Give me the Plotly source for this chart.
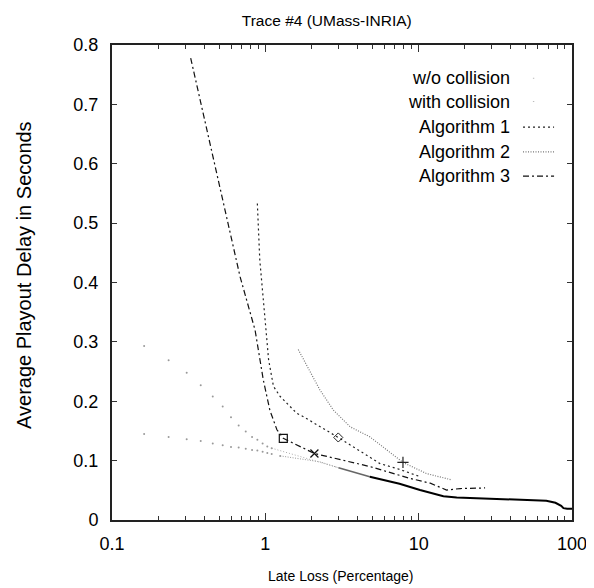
import plotly.graph_objects as go

# ---------------- data ----------------
with_coll_x = [0.162, 0.234, 0.307, 0.379, 0.454, 0.527, 0.597, 0.670, 0.745, 0.819, 0.887, 0.96, 1.03, 1.10]
with_coll_y = [0.293, 0.269, 0.248, 0.227, 0.208, 0.191, 0.173, 0.159, 0.149, 0.140, 0.135, 0.129, 0.124, 0.121]
with_coll_tail_x = [1.10, 1.5, 2.27, 3.0]
with_coll_tail_y = [0.121, 0.111, 0.098, 0.088]

wo_coll_x = [0.162, 0.234, 0.307, 0.379, 0.454, 0.527, 0.597, 0.670, 0.745, 0.819, 0.887, 0.96, 1.03, 1.10, 1.25]
wo_coll_y = [0.145, 0.140, 0.136, 0.133, 0.129, 0.126, 0.123, 0.122, 0.120, 0.118, 0.117, 0.115, 0.113, 0.111, 0.108]
wo_coll_tail_x = [1.25, 1.6, 2.27, 3.0]
wo_coll_tail_y = [0.108, 0.104, 0.098, 0.088]

merge_x = [3.0, 4.8]
merge_y = [0.088, 0.073]
dense_x = [4.8, 7.5, 10.2, 14.5, 17.7, 25, 34, 50, 68, 78, 85, 88, 93, 100]
dense_y = [0.073, 0.061, 0.0505, 0.040, 0.038, 0.0365, 0.035, 0.034, 0.0325, 0.029, 0.024, 0.020, 0.019, 0.019]

alg1_x = [0.887, 0.92, 1.01, 1.05, 1.13, 1.25, 1.6, 1.77, 2.99, 5.6, 7.56, 10.2]
alg1_y = [0.533, 0.438, 0.32, 0.27, 0.225, 0.208, 0.18, 0.174, 0.139, 0.095, 0.085, 0.073]

alg2_x = [1.64, 2.27, 2.78, 3.57, 4.81, 5.89, 7.9, 11.3, 16.2]
alg2_y = [0.287, 0.219, 0.185, 0.157, 0.140, 0.123, 0.097, 0.078, 0.068]

alg3_x = [0.326, 0.684, 0.857, 0.97, 1.07, 1.19, 1.31, 2.09, 4.81, 8.8, 11.9, 15.2, 18.7, 27.1]
alg3_y = [0.778, 0.41, 0.32, 0.236, 0.185, 0.152, 0.1375, 0.112, 0.090, 0.070, 0.062, 0.0505, 0.053, 0.054]

# single highlighted points (index into series)
alg1_mark = 8   # diamond
alg2_mark = 6   # plus
alg3_marks = [6, 7]  # square, cross

legend_labels = ["w/o collision", "with collision", "Algorithm 1", "Algorithm 2", "Algorithm 3"]

x_tickvals = [0.1, 1, 10, 100]
x_ticktext = ["0.1", "1", "10", "100"]
x_minor = [m * d for d in (0.1, 1, 10) for m in range(2, 10)]
y_tickvals = [0, 0.1, 0.2, 0.3, 0.4, 0.5, 0.6, 0.7, 0.8]
y_ticktext = ["0", "0.1", "0.2", "0.3", "0.4", "0.5", "0.6", "0.7", "0.8"]

FONT = "Liberation Sans, Arial, sans-serif"

fig = go.Figure()

fig.add_trace(go.Scatter(x=with_coll_x, y=with_coll_y, mode="markers",
                         marker=dict(size=2, color="#999999"), showlegend=False))
fig.add_trace(go.Scatter(x=with_coll_tail_x, y=with_coll_tail_y, mode="lines",
                         line=dict(color="#aaaaaa", width=1, dash="1px,2px"), showlegend=False))
fig.add_trace(go.Scatter(x=wo_coll_x, y=wo_coll_y, mode="markers",
                         marker=dict(size=2, color="#999999"), showlegend=False))
fig.add_trace(go.Scatter(x=wo_coll_tail_x, y=wo_coll_tail_y, mode="lines",
                         line=dict(color="#999999", width=1, dash="1px,1.5px"), showlegend=False))
fig.add_trace(go.Scatter(x=merge_x, y=merge_y, mode="lines",
                         line=dict(color="#666666", width=1.6), showlegend=False))
fig.add_trace(go.Scatter(x=dense_x, y=dense_y, mode="lines",
                         line=dict(color="#000000", width=2), showlegend=False))

fig.add_trace(go.Scatter(x=alg1_x, y=alg1_y, mode="lines",
                         line=dict(color="#222222", width=1.2, dash="2px,3px"), showlegend=False))
fig.add_trace(go.Scatter(x=alg2_x, y=alg2_y, mode="lines",
                         line=dict(color="#777777", width=1.2, dash="1px,1.5px"), showlegend=False))
fig.add_trace(go.Scatter(x=alg3_x, y=alg3_y, mode="lines",
                         line=dict(color="#111111", width=1.2, dash="6px,3px,2px,3px"), showlegend=False))

fig.add_trace(go.Scatter(x=[alg1_x[alg1_mark]], y=[alg1_y[alg1_mark]], mode="markers",
                         marker=dict(symbol="diamond-open", size=7, color="#222222", line=dict(width=1)),
                         showlegend=False))
fig.add_trace(go.Scatter(x=[alg2_x[alg2_mark]], y=[alg2_y[alg2_mark]], mode="markers",
                         marker=dict(symbol="cross-thin-open", size=8, color="#222222", line=dict(width=1.2)),
                         showlegend=False))
fig.add_trace(go.Scatter(x=[alg3_x[alg3_marks[0]]], y=[alg3_y[alg3_marks[0]]], mode="markers",
                         marker=dict(symbol="square-open", size=8, color="#111111", line=dict(width=1.2)),
                         showlegend=False))
fig.add_trace(go.Scatter(x=[alg3_x[alg3_marks[1]]], y=[alg3_y[alg3_marks[1]]], mode="markers",
                         marker=dict(symbol="x-thin-open", size=8, color="#111111", line=dict(width=1.2)),
                         showlegend=False))

# gnuplot-style legend (text right-aligned, sample on the right)
leg_y = [0.930, 0.881, 0.827, 0.775, 0.724]
for lbl, yy in zip(legend_labels, leg_y):
    fig.add_annotation(xref="paper", yref="paper", x=0.869, y=yy, text=lbl, showarrow=False,
                       xanchor="right", yanchor="middle",
                       font=dict(family=FONT, size=18, color="#000"))
fig.add_shape(type="line", xref="paper", yref="paper", x0=0.915, x1=0.918, y0=leg_y[0], y1=leg_y[0],
              line=dict(color="#bbbbbb", width=1))
fig.add_shape(type="line", xref="paper", yref="paper", x0=0.915, x1=0.918, y0=leg_y[1], y1=leg_y[1],
              line=dict(color="#bbbbbb", width=1))
fig.add_shape(type="line", xref="paper", yref="paper", x0=0.8935, x1=0.961, y0=leg_y[2], y1=leg_y[2],
              line=dict(color="#222222", width=1.2, dash="2px,3px"))
fig.add_shape(type="line", xref="paper", yref="paper", x0=0.8935, x1=0.961, y0=leg_y[3], y1=leg_y[3],
              line=dict(color="#777777", width=1.2, dash="1px,1.5px"))
fig.add_shape(type="line", xref="paper", yref="paper", x0=0.8935, x1=0.961, y0=leg_y[4], y1=leg_y[4],
              line=dict(color="#111111", width=1.2, dash="6px,3px,2px,3px"))

# axis titles as annotations for exact placement
fig.add_annotation(xref="paper", yref="paper", x=0.497, y=-0.118, text="Late Loss (Percentage)",
                   showarrow=False, xanchor="center", yanchor="middle",
                   font=dict(family=FONT, size=14, color="#000"))
fig.add_annotation(xref="paper", yref="paper", x=-0.19, y=0.515, text="Average Playout Delay in Seconds",
                   showarrow=False, textangle=-90, xanchor="center", yanchor="middle",
                   font=dict(family=FONT, size=20, color="#000"))

# page body has an 8px margin -> figure is 8px smaller; left/top margins reduced by 8px
fig.update_layout(
    width=586, height=580,
    margin=dict(l=104, r=22, t=37, b=68, autoexpand=False),
    paper_bgcolor="white", plot_bgcolor="white",
    font=dict(family=FONT, size=18, color="#000"),
    title=dict(text="Trace #4 (UMass-INRIA)", x=0.544, xanchor="center", y=0.979, yanchor="middle",
               font=dict(family=FONT, size=15.5, color="#000")),
    showlegend=False,
)
fig.update_xaxes(
    type="log", range=[-1, 2], automargin=False,
    tickvals=x_tickvals, ticktext=x_ticktext,
    ticks="inside", ticklen=7, tickwidth=1, tickcolor="#333",
    minor=dict(tickvals=x_minor, ticks="inside", ticklen=4, tickwidth=1, tickcolor="#333", showgrid=False),
    showline=True, linecolor="#222", linewidth=2, mirror="allticks",
    showgrid=False, zeroline=False,
    ticklabelstandoff=6,
)
fig.update_yaxes(
    range=[0, 0.8], automargin=False,
    tickvals=y_tickvals, ticktext=y_ticktext,
    ticks="inside", ticklen=5, tickwidth=1, tickcolor="#333",
    showline=True, linecolor="#222", linewidth=2, mirror="allticks",
    showgrid=False, zeroline=False,
    ticklabelstandoff=8,
)

fig.write_html("out.html")
